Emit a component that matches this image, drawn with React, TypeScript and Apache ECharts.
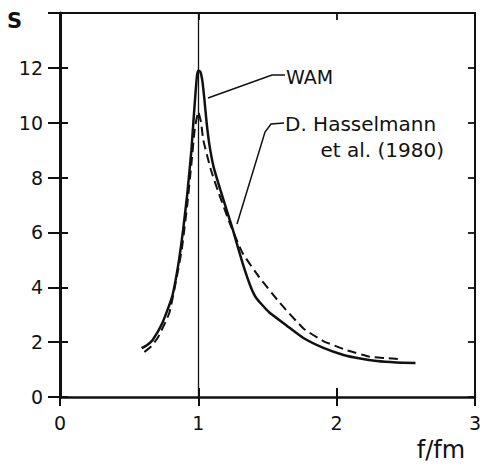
import React, { useEffect, useRef } from "react";
import * as echarts from "echarts";

// WAM curve (solid)
const wamF = [0.59, 0.63, 0.67, 0.74, 0.81, 0.857, 0.89, 0.92, 0.95, 0.964, 0.98, 0.99, 1.0, 1.015, 1.03, 1.045, 1.06, 1.08, 1.11, 1.16, 1.25, 1.32, 1.38, 1.42, 1.51, 1.64, 1.76, 1.9, 2.05, 2.17, 2.29, 2.43, 2.57];
const wamS = [1.78, 1.9, 2.08, 2.7, 3.64, 4.88, 6.09, 7.4, 9.0, 10.0, 11.1, 11.7, 11.9, 11.85, 11.5, 10.8, 10.0, 9.2, 8.4, 7.54, 6.09, 4.88, 4.0, 3.6, 3.1, 2.6, 2.15, 1.8, 1.53, 1.4, 1.31, 1.26, 1.24];

// D. Hasselmann et al. (1980) curve (dashed)
const hasF = [0.61, 0.66, 0.71, 0.79, 0.84, 0.88, 0.92, 0.95, 0.975, 1.0, 1.02, 1.036, 1.09, 1.14, 1.23, 1.32, 1.44, 1.59, 1.76, 1.9, 2.07, 2.24, 2.35, 2.46];
const hasS = [1.64, 1.85, 2.19, 3.06, 4.26, 5.36, 7.0, 8.5, 9.8, 10.4, 10.0, 9.37, 8.3, 7.54, 6.3, 5.25, 4.37, 3.43, 2.5, 2.05, 1.71, 1.47, 1.42, 1.38];

const xTicks = [0, 1, 2, 3];
const yTicks = [0, 2, 4, 6, 8, 10, 12];

const FONT = "DejaVu Sans";
const INK = "#111";

export default function App() {
  const ref = useRef<HTMLDivElement>(null);
  useEffect(() => {
    if (!ref.current) return;
    const chart = echarts.init(ref.current, undefined, { renderer: "svg" });
    const xMin = xTicks[0];
    const xMax = xTicks[xTicks.length - 1];
    const yMin = yTicks[0];
    const yMax = 14;
    const baseX = { type: "value", min: xMin, max: xMax, interval: 1, splitLine: { show: false } };
    const baseY = { type: "value", min: yMin, max: yMax, interval: 2, splitLine: { show: false } };
    chart.setOption({
      animation: false,
      backgroundColor: "#fff",
      grid: { left: 60, right: 3, top: 13, bottom: 69 },
      xAxis: [
        {
          ...baseX,
          position: "bottom",
          axisLine: { show: true, onZero: false, lineStyle: { color: INK, width: 2.5 } },
          axisTick: { show: true, inside: false, length: 9, lineStyle: { color: INK, width: 2 } },
          axisLabel: { show: true, margin: 16, color: INK, fontSize: 19, fontFamily: FONT },
        },
        {
          ...baseX,
          position: "bottom",
          axisLine: { show: false, onZero: false },
          axisTick: { show: true, inside: true, length: 9, lineStyle: { color: INK, width: 2 } },
          axisLabel: { show: false },
        },
        {
          ...baseX,
          position: "top",
          axisLine: { show: true, onZero: false, lineStyle: { color: INK, width: 2 } },
          axisTick: { show: true, inside: true, length: 7, lineStyle: { color: INK, width: 1.8 } },
          axisLabel: { show: false },
        },
      ],
      yAxis: [
        {
          ...baseY,
          position: "left",
          axisLine: { show: true, onZero: false, lineStyle: { color: INK, width: 3 } },
          axisTick: { show: true, inside: false, length: 12, lineStyle: { color: INK, width: 2 } },
          axisLabel: {
            show: true,
            margin: 17,
            color: INK,
            fontSize: 19,
            fontFamily: FONT,
            formatter: (v: number) => (yTicks.indexOf(v) >= 0 ? String(v) : ""),
          },
        },
        {
          ...baseY,
          position: "left",
          axisLine: { show: false, onZero: false },
          axisTick: { show: true, inside: true, length: 8, lineStyle: { color: INK, width: 2 } },
          axisLabel: { show: false },
        },
        {
          ...baseY,
          position: "right",
          axisLine: { show: true, onZero: false, lineStyle: { color: INK, width: 2 } },
          axisTick: { show: true, inside: true, length: 7, lineStyle: { color: INK, width: 1.8 } },
          axisLabel: { show: false },
        },
      ],
      series: [
        {
          name: "WAM",
          type: "line",
          xAxisIndex: 0,
          yAxisIndex: 0,
          data: wamF.map((f, i) => [f, wamS[i]]),
          showSymbol: false,
          smooth: 0.15,
          lineStyle: { color: INK, width: 2.5, type: "solid" },
          markLine: {
            silent: true,
            symbol: ["none", "none"],
            label: { show: false },
            lineStyle: { color: INK, width: 1.3, type: "solid" },
            data: [{ xAxis: 1 }],
          },
        },
        {
          name: "D. Hasselmann et al. (1980)",
          type: "line",
          xAxisIndex: 0,
          yAxisIndex: 0,
          data: hasF.map((f, i) => [f, hasS[i]]),
          showSymbol: false,
          smooth: 0.15,
          lineStyle: { color: INK, width: 2, type: [9, 5] },
        },
      ],
      graphic: [
        {
          type: "text",
          style: { text: "S", x: 7, y: 21, textVerticalAlign: "middle", fill: INK, font: `bold 21px "${FONT}"` },
        },
        {
          type: "text",
          style: { text: "f/fm", x: 441, y: 450, textAlign: "center", textVerticalAlign: "middle", fill: INK, font: `24px "${FONT}"` },
        },
        {
          type: "polyline",
          shape: { points: [[208, 98], [272, 75], [285, 75]] },
          style: { stroke: INK, lineWidth: 1.5, fill: "none" },
        },
        {
          type: "text",
          style: { text: "WAM", x: 286, y: 76.5, textVerticalAlign: "middle", fill: INK, font: `19px "${FONT}"` },
        },
        {
          type: "polyline",
          shape: { points: [[237, 224], [265, 132], [271, 124], [284, 123]] },
          style: { stroke: INK, lineWidth: 1.5, fill: "none" },
        },
        {
          type: "text",
          style: { text: "D. Hasselmann", x: 285, y: 124, textVerticalAlign: "middle", fill: INK, font: `20px "${FONT}"` },
        },
        {
          type: "text",
          style: { text: "et al. (1980)", x: 444, y: 149.5, textAlign: "right", textVerticalAlign: "middle", fill: INK, font: `20px "${FONT}"` },
        },
      ],
    });
    return () => chart.dispose();
  }, []);
  return (
    <div
      ref={ref}
      style={{ position: "fixed", left: 0, top: 0, width: 484, height: 466, background: "#fff" }}
    />
  );
}
